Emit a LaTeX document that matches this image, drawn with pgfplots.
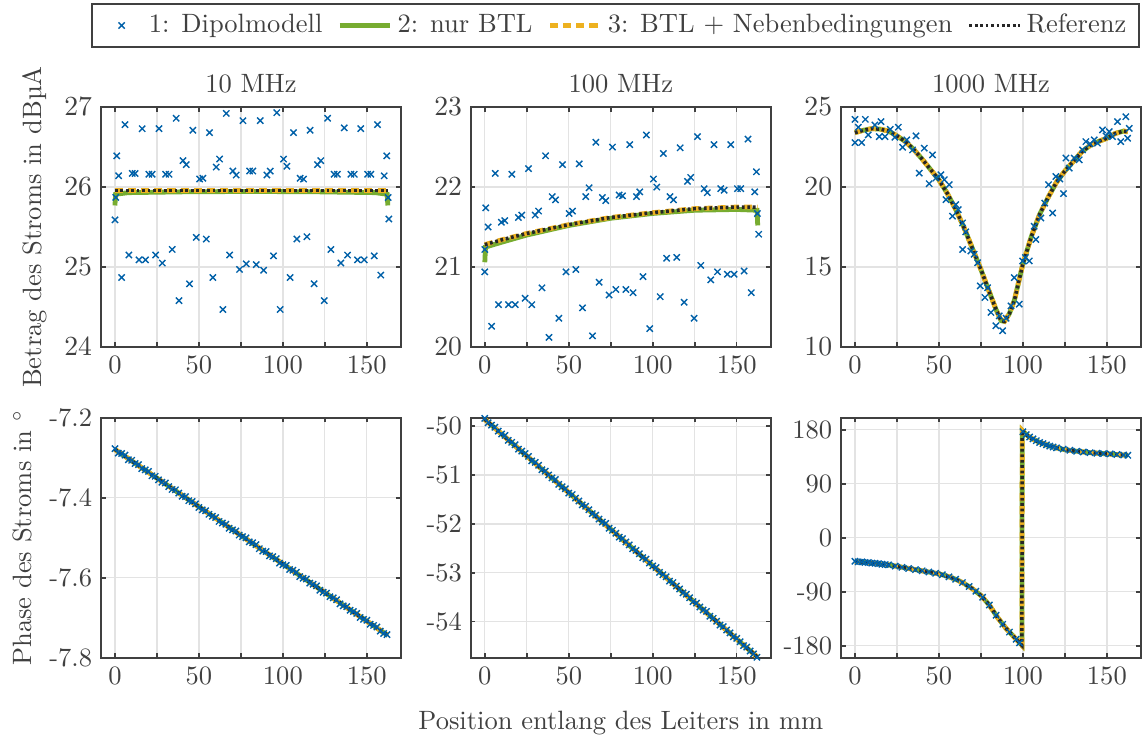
\documentclass[border=0pt]{standalone}
\usepackage{fontspec}
\usepackage{pgfplots}
\pgfplotsset{compat=1.18}
\definecolor{axgray}{RGB}{64,64,64}
\definecolor{dipblue}{RGB}{0,96,168}
\definecolor{btlgreen}{RGB}{119,172,48}
\definecolor{nbyellow}{RGB}{237,177,32}
\definecolor{refblack}{RGB}{38,38,38}

\pgfplotsset{
  panel/.style={
    scale only axis, width=118.8pt, height=95.05pt,
    anchor=north west,
    xmin=-8.3, xmax=170.3,
    xtick={0,25,...,150}, xticklabels={0,,50,,100,,150},
    grid=major, major grid style={gray!22, line width=0.5pt},
    axis line style={axgray, line width=0.8pt},
    every tick/.style={axgray, line width=0.6pt},
    major tick length=1.8pt, tick align=inside,
    tick label style={text=axgray},
    label style={text=axgray},
    xlabel style={yshift=-3.5pt},
    title style={text=axgray, yshift=-4pt},
    legend image code/.code={\draw[mark repeat=2,mark phase=2,##1] plot coordinates {(0cm,0cm) (0.35cm,0cm) (0.7cm,0cm)};},
  },
  dip/.style={only marks, mark=x, mark size=1.75pt, color=dipblue, mark options={line width=0.55pt},
    legend image code/.code={\path[draw=none,fill=none] (0cm,0cm) rectangle (0.62cm,0cm);\draw[##1] plot coordinates {(0.31cm,0cm)};}},
  btl/.style={no marks, color=btlgreen, line width=1.9pt},
  nb/.style={no marks, color=nbyellow, line width=1.9pt, dash pattern=on 3.2pt off 2pt},
  rf/.style={no marks, color=refblack, line width=1.4pt, dash pattern=on 1.1pt off 1.05pt},
}

% 1000 MHz magnitude, all three line models lie on top of each other
\pgfplotstableread{
x y
0 23.40
5 23.55
10 23.65
15 23.62
20 23.50
25 23.20
30 22.85
35 22.35
40 21.75
45 21.10
50 20.45
55 19.60
60 18.60
65 17.45
70 16.15
75 14.85
80 13.45
84 12.35
87 11.65
89 11.60
92 12.10
95 12.95
100 15.20
105 16.90
110 18.30
115 19.35
120 20.30
125 21.00
130 21.60
135 22.20
140 22.60
145 22.85
150 23.05
155 23.35
160 23.50
162.5 23.45
}\magC

\pgfplotstableread{
x y
0 -39
5 -40.5
10 -42
15 -43.5
20 -45
25 -47.5
30 -50
35 -52.5
40 -55
45 -57.5
50 -60
55 -64
60 -69
65 -76
70 -85
75 -96
80 -112
85 -133
90 -151
95 -166
99.4 -179
99.6 179
102 172
105 166
110 159
115 154
120 150
125 147
130 145
140 142
150 140
162.5 137.5
}\phC

\begin{document}
\begin{tikzpicture}[font=\fontsize{10.5}{12.6}\selectfont]
\useasboundingbox (0,0) rectangle (453.5pt,-292.3pt);

% ---------- 10 MHz, Betrag ----------
\begin{axis}[panel, at={(40pt,-42.4pt)},
  ymin=24, ymax=27, ytick={24,25,26,27},
  title={10 MHz},
  ylabel={Betrag des Stroms in dBµA},
  legend columns=4,
  legend style={at={(1.715,1.34)}, anchor=center, draw=axgray, line width=0.6pt,
    text=axgray, /tikz/every even column/.append style={column sep=4pt}},
]
\addplot[dip] table {
0 25.59
0.5 25.87
1.1 26.39
2.2 26.14
4 24.87
6 26.78
8.3 25.15
10.3 26.17
12 26.17
14.3 25.09
16.2 26.73
18.2 25.09
20.2 26.16
22.2 26.16
24.2 25.15
26.2 26.73
28.2 25.05
30.2 26.16
32.2 26.16
34.1 25.22
36.5 26.86
38.1 24.58
40.5 26.33
42.5 26.28
44.4 24.79
46.4 26.71
48.4 25.37
50.4 26.10
52.4 26.11
54.4 25.35
56.3 26.68
58.3 24.87
60.3 26.25
62.3 26.35
64.3 24.47
66.3 26.92
68.3 25.15
70.2 26.20
72.2 26.15
74.2 24.97
76.2 26.83
78.2 25.04
80.2 26.20
82.1 26.20
84.1 25.03
86.5 26.83
88.5 24.96
90.5 26.15
92.5 26.20
94.4 25.14
96.4 26.93
98.4 24.47
100.4 26.35
102.4 26.26
104.3 24.87
106.3 26.68
108.3 25.35
110.3 26.11
112.3 26.10
114.3 25.38
116.2 26.71
118.6 24.79
120.6 26.28
122.6 26.33
124.6 24.58
126.6 26.86
128.6 25.22
130.5 26.16
132.5 26.16
134.5 25.05
136.5 26.74
138.5 25.15
140.5 26.16
142.5 26.16
144.4 25.09
146.4 26.73
148.4 25.09
150.4 26.16
152.4 26.16
154.4 25.14
156.3 26.78
158.3 24.90
160.3 26.14
161.9 26.39
162.7 25.87
163.1 25.60
};
\addlegendentry{1: Dipolmodell}
\addplot[btl] coordinates {(0,25.77) (0.4,25.91) (8,25.93) (40,25.94) (81,25.945) (122,25.94) (155,25.93) (162.1,25.91) (162.5,25.77)};
\addlegendentry{2: nur BTL}
\addplot[nb] coordinates {(0,25.955) (162.5,25.955)};
\addlegendentry{3: BTL + Nebenbedingungen}
\addplot[rf] coordinates {(0,25.955) (162.5,25.955)};
\addlegendentry{Referenz}
\end{axis}

% ---------- 100 MHz, Betrag ----------
\begin{axis}[panel, at={(186.5pt,-42.4pt)},
  ymin=20, ymax=23, ytick={20,21,22,23},
  title={100 MHz},
]
\addplot[dip] table {
0 20.94
0 21.22
0.6 21.74
2.0 21.50
4.0 20.26
6.2 22.17
8.1 20.53
9.9 21.56
11.9 21.58
14.1 20.53
16.1 22.16
18.1 20.53
20.0 21.62
22.0 21.65
24.0 20.61
26.0 22.23
28.0 20.53
30.0 21.65
32.0 21.70
34.0 20.74
36.2 22.39
38.2 20.12
40.1 21.88
42.1 21.84
44.1 20.36
46.3 22.28
48.3 20.94
50.2 21.67
52.2 21.70
54.2 20.97
56.2 22.29
58.2 20.49
60.1 21.88
62.1 21.99
64.1 20.14
66.1 22.56
68.1 20.81
70.0 21.87
72.0 21.83
74.0 20.65
76.0 22.50
78.0 20.72
80.0 21.90
82.0 21.89
84.0 20.72
86.3 22.53
88.3 20.68
90.3 21.88
92.3 21.94
94.2 20.88
96.2 22.65
98.2 20.23
100.4 22.10
102.4 22.00
104.4 20.63
106.3 22.42
108.3 21.11
110.3 21.88
112.3 21.84
114.3 21.12
116.3 22.49
118.7 20.56
120.7 22.07
122.6 22.12
124.6 20.36
126.6 22.63
128.6 21.02
130.6 21.98
132.5 21.93
134.5 20.84
136.5 22.53
138.5 20.94
140.5 21.98
142.5 21.96
144.4 20.91
146.4 22.53
148.4 20.91
150.4 21.98
152.4 21.98
154.4 20.95
156.7 22.60
158.7 20.68
160.7 21.94
161.7 22.19
162.3 21.67
163.1 21.41
};
\addplot[btl] coordinates {(0,21.06) (0.4,21.25) (10,21.31) (25,21.40) (50,21.52) (75,21.61) (100,21.67) (125,21.71) (150,21.72) (162.1,21.71) (162.5,21.52)};
\addplot[nb] coordinates {(0,21.28) (10,21.34) (25,21.42) (50,21.53) (75,21.62) (100,21.68) (125,21.73) (150,21.75) (162.5,21.75)};
\addplot[rf] coordinates {(0,21.28) (10,21.34) (25,21.42) (50,21.53) (75,21.62) (100,21.68) (125,21.73) (150,21.75) (162.5,21.75)};
\end{axis}

% ---------- 1000 MHz, Betrag ----------
\begin{axis}[panel, at={(333.1pt,-42.4pt)},
  ymin=10, ymax=25, ytick={10,15,20,25},
  title={1000 MHz},
]
\addplot[dip] table {
0 24.23
2.0 23.74
0 22.78
4.0 22.78
6.2 24.23
7.9 23.26
11.9 23.88
15.5 24.09
14.5 23.15
17.9 23.15
21.0 23.61
23.8 23.11
25.8 23.74
28.4 22.49
30.9 22.95
34.3 22.32
36.3 23.20
38.3 20.87
41.3 22.43
44.2 20.21
46.2 22.01
48.2 20.56
51.2 20.77
53.2 20.46
56.1 20.15
54.2 19.21
58.1 18.18
60.0 18.90
61.5 18.59
64.1 17.76
64.1 16.10
66.0 17.20
69.0 16.00
71.0 15.80
73.0 15.27
74.6 13.82
77.4 13.10
79.0 13.70
81.0 12.16
83.9 11.33
85.9 11.95
87.9 11.02
90.0 11.80
92.9 12.57
94.8 14.34
97.8 12.68
99.8 15.38
101.5 15.60
103.8 15.38
106.7 17.55
107.7 16.72
110.7 18.07
113.0 19.00
115.3 20.15
117.7 18.38
119.6 20.66
122.0 20.50
124.2 19.59
125.6 21.81
127.6 21.18
130.6 21.81
133.5 21.70
135.5 22.32
137.5 22.84
140.0 22.70
142.5 22.95
144.4 22.74
147.4 23.57
149.5 23.20
151.4 23.46
153.4 23.15
156.3 24.09
158.3 22.84
161.3 24.40
162.3 23.05
163.3 23.67
};
\addplot[btl] table {\magC};
\addplot[nb] table {\magC};
\addplot[rf] table {\magC};
\end{axis}

% ---------- 10 MHz, Phase ----------
\begin{axis}[panel, at={(40pt,-165.5pt)},
  ymin=-7.8, ymax=-7.2, ytick={-7.8,-7.6,-7.4,-7.2},
  yticklabels={-7.8,-7.6,-7.4,-7.2},
  ylabel={Phase des Stroms in $^\circ$},
]
\addplot[dip] table {
0 -7.277
2 -7.288
4 -7.289
6 -7.293
8 -7.305
10 -7.306
12 -7.314
14 -7.317
16 -7.327
18 -7.330
20 -7.334
22 -7.345
24 -7.346
26 -7.355
28 -7.361
30 -7.363
32 -7.372
34 -7.379
36 -7.380
38 -7.388
40 -7.396
42 -7.397
44 -7.407
46 -7.409
48 -7.415
50 -7.424
52 -7.430
54 -7.432
56 -7.441
58 -7.446
60 -7.449
62 -7.459
64 -7.463
66 -7.466
68 -7.476
70 -7.480
72 -7.483
74 -7.493
76 -7.497
78 -7.500
80 -7.510
82 -7.512
84 -7.517
86 -7.527
88 -7.533
90 -7.534
92 -7.545
94 -7.547
96 -7.552
98 -7.563
100 -7.567
102 -7.569
104 -7.579
106 -7.581
108 -7.586
110 -7.597
112 -7.601
114 -7.603
116 -7.613
118 -7.616
120 -7.620
122 -7.631
124 -7.636
126 -7.638
128 -7.647
130 -7.650
132 -7.655
134 -7.665
136 -7.670
138 -7.672
140 -7.681
142 -7.684
144 -7.689
146 -7.699
148 -7.704
150 -7.706
152 -7.716
154 -7.719
156 -7.723
158 -7.733
160 -7.739
162 -7.742
};
\addplot[btl] coordinates {(0,-7.279) (81,-7.511) (162.5,-7.744)};
\addplot[nb] coordinates {(0,-7.279) (81,-7.511) (162.5,-7.744)};
\addplot[rf] coordinates {(0,-7.279) (81,-7.511) (162.5,-7.744)};
\end{axis}

% ---------- 100 MHz, Phase ----------
\begin{axis}[panel, at={(186.5pt,-165.5pt)},
  ymin=-54.74, ymax=-49.83, ytick={-54,-53,-52,-51,-50},
  yticklabels={-54,-53,-52,-51,-50},
  xlabel={Position entlang des Leiters in mm},
]
\addplot[dip] table {
0 -49.84
2 -49.93
4 -49.98
6 -50.02
8 -50.10
10 -50.16
12 -50.19
14 -50.29
16 -50.33
18 -50.38
20 -50.47
22 -50.51
24 -50.56
26 -50.62
28 -50.71
30 -50.74
32 -50.80
34 -50.89
36 -50.92
38 -51.00
40 -51.06
42 -51.09
44 -51.19
46 -51.24
48 -51.28
50 -51.37
52 -51.40
54 -51.47
56 -51.53
58 -51.61
60 -51.64
62 -51.71
64 -51.79
66 -51.82
68 -51.90
70 -51.96
72 -51.99
74 -52.09
76 -52.13
78 -52.19
80 -52.27
82 -52.30
84 -52.37
86 -52.43
88 -52.51
90 -52.54
92 -52.61
94 -52.69
96 -52.72
98 -52.80
100 -52.86
102 -52.89
104 -52.99
106 -53.04
108 -53.08
110 -53.17
112 -53.20
114 -53.27
116 -53.33
118 -53.41
120 -53.44
122 -53.51
124 -53.59
126 -53.62
128 -53.70
130 -53.76
132 -53.79
134 -53.89
136 -53.93
138 -53.99
140 -54.07
142 -54.10
144 -54.17
146 -54.23
148 -54.31
150 -54.34
152 -54.41
154 -54.49
156 -54.52
158 -54.60
160 -54.66
162 -54.73
};
\addplot[btl] coordinates {(0,-49.86) (81,-52.29) (162.5,-54.73)};
\addplot[nb] coordinates {(0,-49.86) (81,-52.29) (162.5,-54.73)};
\addplot[rf] coordinates {(0,-49.86) (81,-52.29) (162.5,-54.73)};
\end{axis}

% ---------- 1000 MHz, Phase ----------
\begin{axis}[panel, at={(333.1pt,-165.5pt)},
  ymin=-200, ymax=200, ytick={-180,-90,0,90,180},
  yticklabels={-180,-90,0,90,180},
]
\addplot[dip] table {
0 -39
2 -40
4 -40
6 -41
8 -41
10 -42
12 -42.5
14 -43
16 -44
18 -44.5
20 -45
24 -47
28 -49
32 -51
36 -53
40 -55
44 -57
48 -59
52 -61.5
56 -65
60 -69
64 -74.5
68 -81
72 -89
76 -99
80 -112
84 -129
88 -144
92 -157
96 -169
98 -175
100 177
102 172
104 168
106 165
108 162
110 159
112 157
114 155
116 153
118 151.5
120 150
124 148
128 146
132 144.5
136 143
140 142
144 141
148 140.5
152 140
156 139
160 138
162.5 137.5
};
\addplot[btl] table {\phC};
\addplot[nb] table {\phC};
\addplot[rf] table {\phC};
\end{axis}
\end{tikzpicture}
\end{document}
